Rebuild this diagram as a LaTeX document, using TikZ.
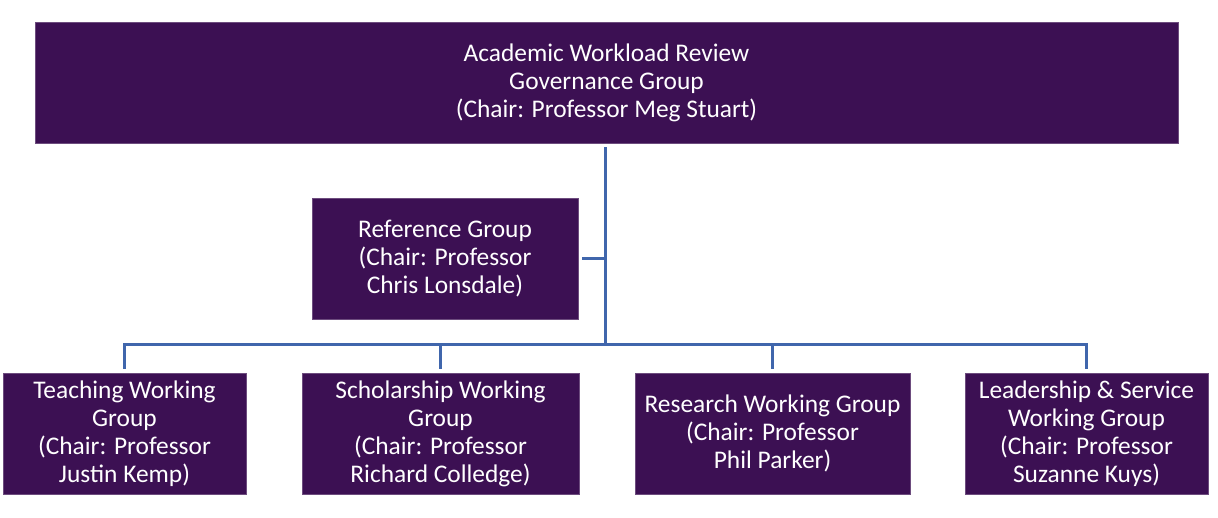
\documentclass[tikz,border=0pt]{standalone}
\usepackage{fontspec}
\setmainfont{Carlito}
\definecolor{wgpurple}{HTML}{3C1053}
\definecolor{wgblue}{HTML}{4066AC}
\begin{document}
\begin{tikzpicture}[x=1pt, y=-1pt,
    group/.style={fill=wgpurple, draw=wgpurple!75!white, line width=0.6pt, text=white,
      align=center, minimum height=121pt, inner sep=0pt, font=\fontsize{25.4}{28}\selectfont},
    link/.style={draw=wgblue, line width=3pt}]
        \useasboundingbox (0,0) rectangle (1218,518);
        \node[group, minimum width=1143pt] (awr) at (606.5,82.5) {Academic Workload Review\\Governance Group\\(Chair: Professor Meg Stuart)};
        \node[group, minimum width=266pt] (ref) at (445,258.5) {Reference Group\\(Chair: Professor\\Chris Lonsdale)};
        \node[group, minimum width=243pt] (teach) at (124.5,433.5) {Teaching Working\\Group\\(Chair: Professor\\Justin Kemp)};
        \node[group, minimum width=277pt] (schol) at (440.5,433.5) {Scholarship Working\\Group\\(Chair: Professor\\Richard Colledge)};
        \node[group, minimum width=275pt] (res) at (772.5,433.5) {Research Working Group\\(Chair: Professor\\Phil Parker)};
        \node[group, minimum width=243pt] (lead) at (1086.5,433.5) {Leadership \& Service\\Working Group\\(Chair: Professor\\Suzanne Kuys)};
        \coordinate (hub) at (605,345);
        \draw[link] ([yshift=-4pt]awr.south -| hub) -- (hub);
        \draw[link] ([xshift=4pt]ref.east) -- (ref.east -| hub);
        \foreach \g in {teach, schol, res, lead}
            \draw[link] (hub) -| ([yshift=4pt]\g.north);
        \end{tikzpicture}
\end{document}
